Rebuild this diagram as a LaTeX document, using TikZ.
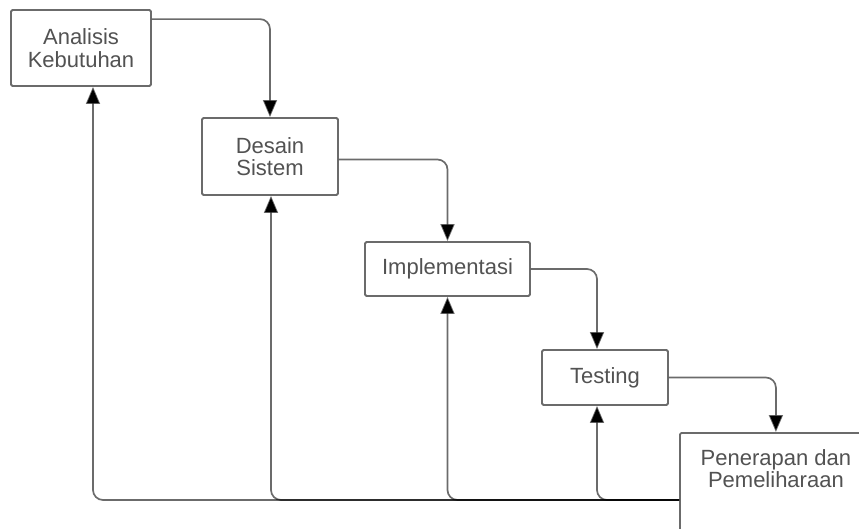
\documentclass[tikz,border=0pt]{standalone}
\usepackage{fontspec}
\setmainfont{Liberation Sans}
\usetikzlibrary{arrows.meta}
\begin{document}
\begin{tikzpicture}[x=1pt,y=-1pt,
  box/.style={draw=black!58, line width=1.8pt, fill=white, rounded corners=1.5pt,
    inner sep=0pt, font=\fontsize{22}{22.5}\selectfont, text=black!68, align=center},
  boxtext/.style={inner sep=0pt, font=\fontsize{22}{22.5}\selectfont, text=black!68, align=center},
  conn/.style={draw=black, draw opacity=0.58, line width=1.7pt, rounded corners=10pt,
    -{Triangle[width=14pt,length=17pt,fill=black]}},
]
\useasboundingbox (0,0) rectangle (859,528);
\clip (0,0) rectangle (859,528);

\node[box, minimum width=140pt, minimum height=76pt] (b1) at (81,48) {Analisis\\Kebutuhan};
\node[box, minimum width=136pt, minimum height=77pt] (b2) at (270,156.5) {Desain\\Sistem};
\node[box, minimum width=165pt, minimum height=54pt] (b3) at (447.5,269) {Implementasi};
\node[box, minimum width=126pt, minimum height=55pt] (b4) at (605,377.5) {Testing};
\node[box, anchor=north west, minimum width=192pt, minimum height=130pt,
  label={[boxtext, anchor=north, yshift=-17pt]north:{Penerapan dan\\Pemeliharaan}}] (b5) at (679,432) {};

% forward flow
\draw[conn] ([yshift=-10pt]b1.north east) -| (b2.north);
\draw[conn] ([yshift=-3pt]b2.east) -| (b3.north);
\draw[conn] (b3.east) -| ([xshift=-8pt]b4.north);
\draw[conn] (b4.east) -| (b5.north);

% feedback
\coordinate (fb) at ([yshift=-68pt]b5.north west);
\draw[conn] (fb) -| ([xshift=12pt]b1.south);
\draw[conn] (fb) -| ([xshift=1pt]b2.south);
\draw[conn] (fb) -| (b3.south);
\draw[conn] (fb) -| ([xshift=-8pt]b4.south);
\end{tikzpicture}
\end{document}
